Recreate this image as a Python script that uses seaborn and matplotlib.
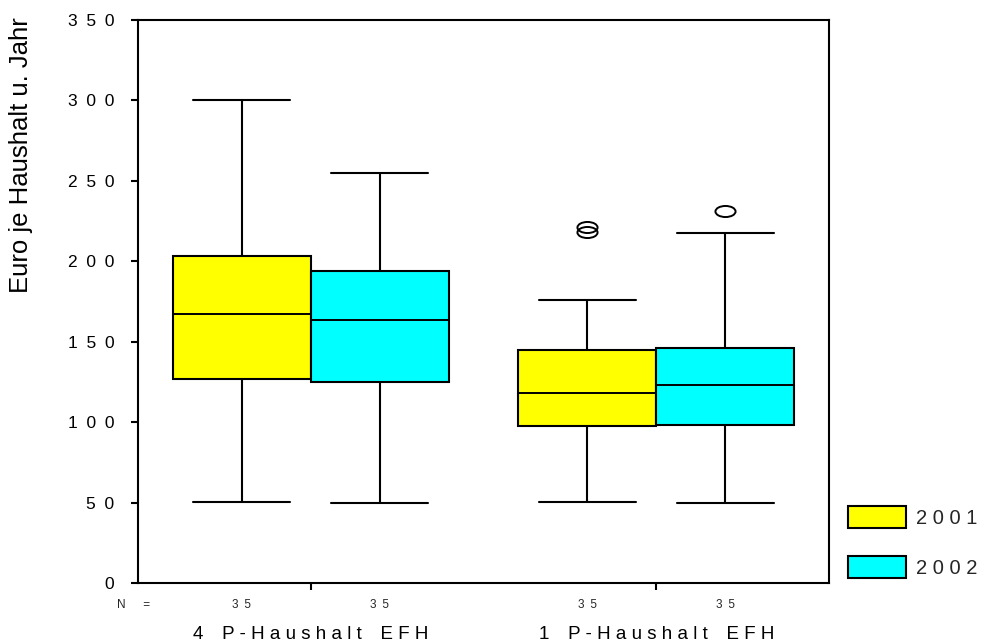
import numpy as np
import pandas as pd
import matplotlib
matplotlib.use("Agg")
import matplotlib.pyplot as plt
from matplotlib.path import Path
from matplotlib.transforms import Affine2D, blended_transform_factory
import seaborn as sns

# ---- data (one entry per box) ----
box_groups = ["4 P-Haushalt EFH", "4 P-Haushalt EFH", "1 P-Haushalt EFH", "1 P-Haushalt EFH"]
box_years = ["2001", "2002", "2001", "2002"]
whisker_low = [50.6, 50.0, 50.6, 50.0]
q1 = [126.8, 125.0, 97.6, 98.0]
median = [167.2, 163.5, 118.1, 123.1]
q3 = [203.3, 194.0, 144.8, 146.0]
whisker_high = [300.3, 255.0, 175.9, 217.5]
outliers = [[], [], [218.2, 221.3], [231.3]]
n_counts = [35, 35, 35, 35]

group_order = ["4 P-Haushalt EFH", "1 P-Haushalt EFH"]
group_labels = ["4\u2002\u2002P - H a u s h a l t\u2002\u2002E F H",
                "1\u2002\u2002P - H a u s h a l t\u2002\u2002E F H"]
year_order = ["2001", "2002"]
year_labels = ["2 0 0 1", "2 0 0 2"]
year_colors = ["#FFFF00", "#00FFFF"]
y_ticks = [0, 50, 100, 150, 200, 250, 300, 350]
y_label = "Euro je Haushalt u. Jahr"

# ---- build a sample per box whose quartiles / whiskers equal the read values ----
rows = []
for g, yr, lo, a, m, b, hi, out in zip(box_groups, box_years, whisker_low, q1,
                                      median, q3, whisker_high, outliers):
    vals = [lo] + [a] * 3 + [m] * 3 + [b] * 3 + [hi] + list(out)
    vals += [hi] * (13 - len(vals))
    for v in sorted(vals):
        rows.append({"group": g, "year": yr, "value": v})
df = pd.DataFrame(rows)

sns.set_style("ticks")
plt.rcParams["font.family"] = ["Liberation Sans", "DejaVu Sans"]

fig = plt.figure(figsize=(9.85, 6.44), dpi=100)
ax = fig.add_axes([138 / 985, 1 - 583 / 644, (829 - 138) / 985, (583 - 20) / 644])

ellipse = Path.unit_circle().transformed(Affine2D().scale(1.0, 0.55))

sns.boxplot(
    data=df, x="group", y="value", hue="year",
    order=group_order, hue_order=year_order, palette=year_colors,
    width=0.8, gap=0, saturation=1, whis=1.5,
    linecolor="black", linewidth=1.5,
    flierprops=dict(marker=ellipse, markersize=14.5, markerfacecolor="none",
                    markeredgecolor="black", markeredgewidth=1.4),
    medianprops=dict(color="black", linewidth=1.4),
    capwidths=0.28,
    ax=ax,
)

ax.set_xlim(-0.5, 1.5)
ax.set_ylim(0, 350)
for s in ax.spines.values():
    s.set_visible(True)
    s.set_color("black")
    s.set_linewidth(1.5)

ax.set_yticks(y_ticks)
ax.set_yticklabels(["\u2002".join(str(v)) for v in y_ticks])
ax.tick_params(axis="y", length=5, width=1.5, pad=12, labelsize=12.5, colors="black")
ax.set_xticks(range(len(group_order)))
ax.set_xticklabels(group_labels)
ax.tick_params(axis="x", length=5, width=1.5, pad=26, labelsize=13.5, colors="black")
ax.set_xlabel("")
ax.set_ylabel(y_label, fontsize=18.5, color="black")
ax.yaxis.set_label_coords(-0.152, 0.76)

# N row
trans = blended_transform_factory(ax.transData, ax.transAxes)
ax.text(-0.006, -0.039, "N\u2002\u2002\u2002=", transform=ax.transAxes,
        ha="center", va="center", fontsize=8.5)
for g, yr, n in zip(box_groups, box_years, n_counts):
    xpos = group_order.index(g) + (year_order.index(yr) - 0.5) * 0.4
    ax.text(xpos, -0.039, "\u2002".join(str(n)), transform=trans,
            ha="center", va="center", fontsize=8.5)

# legend
handles, labels = ax.get_legend_handles_labels()
for h in handles:
    h.set_edgecolor("black")
    h.set_linewidth(1.5)
ax.legend(handles, year_labels, loc="upper left",
          bbox_to_anchor=(848 / 985, 1 - 506 / 644), bbox_transform=fig.transFigure,
          frameon=False, borderpad=0, borderaxespad=0,
          handlelength=2.9, handleheight=1.3, labelspacing=1.4,
          handletextpad=0.5, fontsize=14.5)

fig.savefig("out.png", dpi=100)
